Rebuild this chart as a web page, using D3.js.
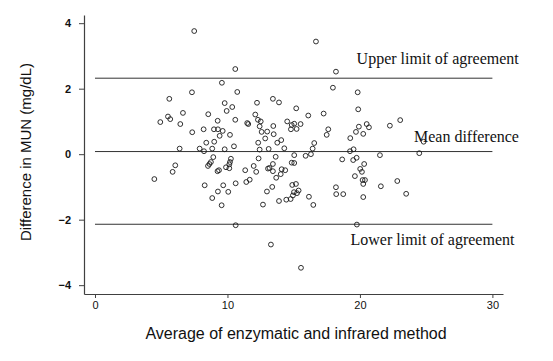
<!DOCTYPE html>
<html>
<head>
<meta charset="utf-8">
<script src="https://cdn.jsdelivr.net/npm/d3@7"></script>
<style>
  html, body { margin: 0; padding: 0; background: #fff; }
  svg { display: block; }
</style>
</head>
<body>
<svg id="chart" width="553" height="361"></svg>
<script>
// Average of the two methods (x) and their difference (y)
const avgValues = [
  7.49,10.59,9.58,7.32,10.74,5.61,9.79,10.36,12.23,13.43,13.89,9.94,6.64,5.51,5.68,4.93,6.44,8.55,9.26,10.59,
  11.49,11.57,12.10,12.30,12.51,13.46,14.51,7.34,8.20,8.98,9.28,9.64,9.41,10.19,12.43,12.58,13.00,13.49,12.85,14.06,
  13.76,8.40,9.00,12.32,6.39,7.90,8.23,8.85,9.79,10.49,12.43,13.11,14.29,16.43,16.55,19.25,19.52,
  16.68,18.19,17.96,19.83,19.87,15.19,16.10,17.26,14.85,15.04,15.22,14.79,15.52,17.61,17.49,19.92,20.51,20.68,19.70,
  20.25,22.26,23.04,19.27,24.81,
  6.06,5.86,4.48,8.93,8.75,8.64,8.53,9.36,9.25,10.26,10.19,10.14,9.89,10.14,11.34,12.35,11.98,12.17,13.64,13.43,
  13.06,13.17,13.43,14.09,14.36,14.02,13.68,11.68,11.42,10.62,9.68,8.28,9.28,10.06,8.85,9.56,13.38,12.98,12.68,13.89,
  14.44,10.62,13.28,
  15.04,15.90,16.30,14.85,15.04,18.66,19.49,19.75,20.32,21.51,20.02,20.15,19.62,20.20,20.38,20.25,14.89,15.17,15.37,15.02,
  15.25,14.94,14.77,16.15,16.48,18.19,18.21,18.74,20.25,21.58,22.82,23.49,19.77,15.55,24.48
];
const diffValues = [
  3.76,2.60,2.18,1.89,1.90,1.69,1.56,1.44,1.57,1.69,1.58,1.32,1.26,1.15,1.07,0.98,0.92,1.22,1.02,1.05,
  0.95,0.92,1.21,1.05,1.00,0.86,1.00,0.67,0.76,0.76,0.76,0.71,0.56,0.59,0.85,0.68,0.69,0.61,0.48,0.43,
  0.35,0.35,0.38,0.35,0.17,0.17,0.09,0.17,0.15,0.24,0.14,0.16,0.18,0.17,0.34,0.09,0.15,
  3.44,2.52,2.03,1.89,1.37,1.40,1.18,1.24,0.89,0.93,0.77,0.76,0.92,0.76,0.59,0.84,0.92,0.82,0.68,
  0.62,0.87,1.04,0.49,0.38,
  -0.34,-0.54,-0.76,-0.09,-0.24,-0.30,-0.36,-0.49,-0.52,-0.14,-0.24,-0.31,-0.40,-0.43,-0.49,-0.13,-0.36,-0.54,-0.08,-0.30,
  -0.44,-0.42,-0.52,-0.46,-0.49,-0.61,-0.72,-0.78,-0.85,-0.89,-0.95,-0.95,-1.14,-1.15,-1.34,-1.56,-1.00,-1.14,-1.54,-1.43,
  -1.39,-2.17,-2.76,
  -0.03,-0.05,0.00,-0.26,-0.27,-0.16,-0.18,-0.11,-0.30,-0.03,-0.45,-0.54,-0.67,-0.79,-0.79,-0.91,-0.94,-0.91,-1.11,-1.16,
  -1.19,-1.26,-1.37,-1.30,-1.55,-1.01,-1.22,-1.22,-1.31,-0.98,-0.82,-1.21,-2.15,-3.47,0.03
];

const xTicks = [0, 10, 20, 30];
const yTicks = [-4, -2, 0, 2, 4];

// Reference lines: value and label
const refValues = [2.32, 0.08, -2.14];
const refLabels = ["Upper limit of agreement", "Mean difference", "Lower limit of agreement"];
const refLabelX = [19.75, 24.08, 19.29];
const refLabelY = [2.76, 0.38, -2.78];
const refStart = 0, refEnd = 30;

const xTitle = "Average of enzymatic and infrared method";
const yTitle = "Difference in MUN (mg/dL)";

const svg = d3.select("#chart");
const x = d3.scaleLinear().domain([-0.83, 30.8]).range([84, 503]);
const y = d3.scaleLinear().domain([-4.27, 4.25]).range([294, 15]);

const axisColor = "#404040";

// Y axis
const gy = svg.append("g").attr("transform", "translate(84,0)")
  .call(d3.axisLeft(y).tickValues(yTicks).tickSize(5).tickSizeOuter(0).tickPadding(8)
        .tickFormat(d3.format("d")));
gy.select(".domain").attr("stroke", axisColor).attr("stroke-width", 1.2);
gy.selectAll(".tick line").attr("stroke", axisColor);
gy.selectAll(".tick text").attr("font-family", "Liberation Sans, Arial, sans-serif")
  .attr("font-size", 11).attr("font-weight", "bold").attr("fill", "#111");

// X axis
const gx = svg.append("g").attr("transform", "translate(0,294)")
  .call(d3.axisBottom(x).tickValues(xTicks).tickSize(4).tickSizeOuter(0).tickPadding(3)
        .tickFormat(d3.format("d")));
gx.select(".domain").attr("stroke", axisColor).attr("stroke-width", 1.2);
gx.selectAll(".tick line").attr("stroke", axisColor);
gx.selectAll(".tick text").attr("font-family", "Liberation Sans, Arial, sans-serif")
  .attr("font-size", 11).attr("fill", "#111");

// Reference lines
svg.append("g").selectAll("line").data(refValues).join("line")
  .attr("x1", x(refStart)).attr("x2", x(refEnd))
  .attr("y1", d => y(d)).attr("y2", d => y(d))
  .attr("stroke", "#333").attr("stroke-width", 1);

// Reference labels
svg.append("g").selectAll("text").data(refLabels).join("text")
  .attr("x", (d, i) => x(refLabelX[i]))
  .attr("y", (d, i) => y(refLabelY[i]))
  .attr("font-family", "Liberation Serif, 'Times New Roman', serif")
  .attr("font-size", 16).attr("fill", "#111")
  .text(d => d);

// Points
const pts = avgValues.map((v, i) => ({ a: v, d: diffValues[i] }));
svg.append("g").selectAll("circle").data(pts).join("circle")
  .attr("cx", p => x(p.a)).attr("cy", p => y(p.d)).attr("r", 2.4)
  .attr("fill", "none").attr("stroke", "#1a1a1a").attr("stroke-width", 0.9);

// Axis titles
svg.append("text").attr("x", 296).attr("y", 339).attr("text-anchor", "middle")
  .attr("font-family", "Liberation Sans, Arial, sans-serif").attr("font-size", 16)
  .attr("fill", "#111").text(xTitle);
svg.append("text").attr("transform", "translate(31,152) rotate(-90)").attr("text-anchor", "middle")
  .attr("font-family", "Liberation Sans, Arial, sans-serif").attr("font-size", 15)
  .attr("fill", "#111").text(yTitle);
</script>
</body>
</html>
